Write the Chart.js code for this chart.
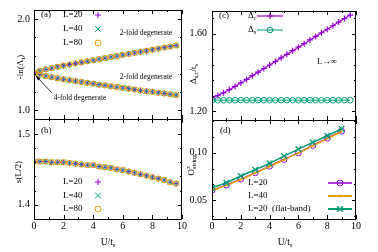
<!DOCTYPE html>
<html>
<head>
<meta charset="utf-8">
<script src="https://cdn.jsdelivr.net/npm/chart.js@4.4.0/dist/chart.umd.min.js"></script>
<style>
html, body { margin: 0; padding: 0; background: #fff; }
#wrap { position: relative; width: 378px; height: 252px; }
#wrap canvas { position: absolute; left: 0; top: 0; }
</style>
</head>
<body>
<div id="wrap">
  <canvas id="chartA" width="378" height="252"></canvas>
  <canvas id="chartB" width="378" height="252"></canvas>
  <canvas id="chartC" width="378" height="252"></canvas>
  <canvas id="chartD" width="378" height="252"></canvas>
</div>
<script>
// data
const uGrid = [0, 0.4, 0.8, 1.2, 1.6, 2.0, 2.4, 2.8, 3.2, 3.6, 4.0, 4.4, 4.8, 5.2, 5.6, 6.0, 6.4, 6.8, 7.2, 7.6, 8.0, 8.4, 8.8, 9.2, 9.6];

// (a) -ln(Lambda_i), upper and lower branch (L=20,40,80 coincide)
const lnUpper = [1.410, 1.432, 1.449, 1.463, 1.477, 1.490, 1.502, 1.514, 1.526, 1.538, 1.549, 1.561, 1.572, 1.584, 1.595, 1.607, 1.618, 1.630, 1.641, 1.653, 1.664, 1.676, 1.688, 1.699, 1.711];
const lnLower = [1.410, 1.391, 1.376, 1.364, 1.352, 1.341, 1.331, 1.321, 1.311, 1.301, 1.292, 1.282, 1.273, 1.264, 1.255, 1.246, 1.237, 1.228, 1.219, 1.210, 1.202, 1.193, 1.185, 1.176, 1.168];

// (b) s(L/2)
const entropy = [1.461, 1.461, 1.461, 1.460, 1.460, 1.460, 1.459, 1.458, 1.457, 1.456, 1.456, 1.454, 1.453, 1.452, 1.450, 1.449, 1.447, 1.445, 1.443, 1.441, 1.439, 1.437, 1.435, 1.432, 1.430];

// (c) gaps
const gapCharge = [1.270, 1.282, 1.296, 1.312, 1.329, 1.347, 1.365, 1.384, 1.402, 1.421, 1.439, 1.457, 1.476, 1.494, 1.513, 1.531, 1.549, 1.568, 1.586, 1.605, 1.623, 1.641, 1.660, 1.678, 1.696];
const gapSpin = [1.258, 1.258, 1.258, 1.258, 1.258, 1.258, 1.258, 1.258, 1.258, 1.258, 1.258, 1.258, 1.258, 1.258, 1.258, 1.258, 1.258, 1.258, 1.258, 1.258, 1.258, 1.258, 1.258, 1.258, 1.258];

// (d) string order
const uInt = [0, 1, 2, 3, 4, 5, 6, 7, 8, 9];
const strL20 = [0.0606, 0.0659, 0.0722, 0.0789, 0.0859, 0.0930, 0.1000, 0.1078, 0.1155, 0.1229];
const strL40 = [0.0602, 0.0655, 0.0718, 0.0785, 0.0855, 0.0926, 0.0996, 0.1074, 0.1150, 0.1224];
const strFlat = [0.0630, 0.0683, 0.0754, 0.0820, 0.0888, 0.0965, 0.1039, 0.1110, 0.1180, 0.1254];

// ticks
const xMajor = [0, 2, 4, 6, 8, 10];
const xMinor = [1, 3, 5, 7, 9];
const yMajorA = [1.0, 2.0], yMinorA = [1.2, 1.4, 1.6, 1.8];
const yMajorB = [1.4, 1.5], yMinorB = [1.42, 1.44, 1.46, 1.48];
const yMajorC = [1.2, 1.6], yMinorC = [1.28, 1.36, 1.44, 1.52, 1.68];
const yMajorD = [0.05, 0.10], yMinorD = [0.0333, 0.0667, 0.0833, 0.1167, 0.1333];

const PURPLE = "#9400d3";
const GREEN = "#009e73";
const ORANGE = "#e69f00";
const SERIF = '"Liberation Serif", "DejaVu Serif", serif';

function pts(xs, ys) {
    return xs.map((x, i) => ({ x: x, y: ys[i] }));
}

// text with sub/superscripts
function drawRich(ctx, parts, x, y, size, align) {
    let w = 0;
    const segs = parts.map(p => {
        const fs = p.s ? size * 0.7 : size;
        ctx.font = fs + "px " + SERIF;
        const pw = ctx.measureText(p.t).width;
        if (!p.keep) w += pw;
        return { t: p.t, fs: fs, pw: pw, keep: p.keep,
            dy: p.s === "sub" ? size * 0.3 : (p.s === "sup" ? -size * 0.35 : 0) };
    });
    let cx = align === "center" ? x - w / 2 : (align === "right" ? x - w : x);
    ctx.textAlign = "left";
    ctx.textBaseline = "middle";
    segs.forEach(s => {
        ctx.font = s.fs + "px " + SERIF;
        ctx.fillText(s.t, cx, y + s.dy);
        if (!s.keep) cx += s.pw;
    });
}

function marker(ctx, style, x, y, r, color, lw) {
    ctx.save();
    ctx.strokeStyle = color;
    ctx.fillStyle = color;
    ctx.lineWidth = lw;
    ctx.beginPath();
    if (style === "cross") {
        ctx.moveTo(x - r, y); ctx.lineTo(x + r, y);
        ctx.moveTo(x, y - r); ctx.lineTo(x, y + r);
        ctx.stroke();
    } else if (style === "crossRot") {
        const d = r * 0.707;
        ctx.moveTo(x - d, y - d); ctx.lineTo(x + d, y + d);
        ctx.moveTo(x - d, y + d); ctx.lineTo(x + d, y - d);
        ctx.stroke();
    } else if (style === "rect") {
        ctx.fillRect(x - r, y - r, 2 * r, 2 * r);
    } else {
        ctx.arc(x, y, r, 0, Math.PI * 2);
        ctx.stroke();
    }
    ctx.restore();
}

// frame, inward ticks, texts, legend
function makeDeco(cfg) {
    return {
        id: "deco",
        afterDraw(chart) {
            const ctx = chart.ctx;
            const a = chart.chartArea;
            const sx = chart.scales.x, sy = chart.scales.y;
            ctx.save();
            ctx.strokeStyle = "#000";
            ctx.lineWidth = 1;
            ctx.strokeRect(Math.round(a.left) + 0.5, Math.round(a.top) + 0.5,
                Math.round(a.right - a.left) - 1, Math.round(a.bottom - a.top));
            ctx.beginPath();
            const tx = (v, len) => {
                const p = Math.round(sx.getPixelForValue(v)) + 0.5;
                ctx.moveTo(p, a.bottom); ctx.lineTo(p, a.bottom - len);
                ctx.moveTo(p, a.top); ctx.lineTo(p, a.top + len);
            };
            const ty = (v, len) => {
                const p = Math.round(sy.getPixelForValue(v)) + 0.5;
                ctx.moveTo(a.left, p); ctx.lineTo(a.left + len, p);
                ctx.moveTo(a.right, p); ctx.lineTo(a.right - len, p);
            };
            xMajor.forEach(v => tx(v, 4));
            xMinor.forEach(v => tx(v, 2));
            cfg.yMajor.forEach(v => ty(v, 4));
            cfg.yMinor.forEach(v => ty(v, 2));
            ctx.stroke();

            ctx.fillStyle = "#000";
            (cfg.texts || []).forEach(t => {
                ctx.save();
                ctx.fillStyle = "#000";
                if (t.rot) {
                    ctx.translate(t.x, t.y);
                    ctx.rotate(-Math.PI / 2);
                    drawRich(ctx, t.parts, 0, 0, t.size, "center");
                } else {
                    drawRich(ctx, t.parts, t.x, t.y, t.size, t.align || "left");
                }
                ctx.restore();
            });
            (cfg.legend || []).forEach(l => {
                if (l.line) {
                    ctx.save();
                    ctx.strokeStyle = l.color;
                    ctx.lineWidth = l.lw;
                    ctx.beginPath();
                    ctx.moveTo(l.line[0], l.y); ctx.lineTo(l.line[1], l.y);
                    ctx.stroke();
                    ctx.restore();
                }
                marker(ctx, l.style, l.x, l.y, l.r, l.color, l.pw);
            });
            if (cfg.arrow) cfg.arrow(ctx, sx, sy);
            ctx.restore();
        }
    };
}

function scales(o) {
    return {
        x: {
            type: "linear", min: 0, max: 10,
            afterBuildTicks: s => { s.ticks = xMajor.map(v => ({ value: v })); },
            afterFit: s => { s.height = o.xh; },
            grid: { display: false, drawTicks: false },
            border: { display: false },
            ticks: { display: o.xh > 0, font: { family: SERIF, size: 10 }, color: "#000", padding: 1,
                maxRotation: 0, autoSkip: false, callback: v => String(v) }
        },
        y: {
            type: "linear", min: o.min, max: o.max,
            afterBuildTicks: s => { s.ticks = o.major.map(v => ({ value: v })); },
            afterFit: s => { s.width = o.yw; },
            grid: { display: false, drawTicks: false },
            border: { display: false },
            ticks: { font: { family: SERIF, size: 10 }, color: "#000", padding: o.pad,
                autoSkip: false, callback: v => v.toFixed(o.dec) }
        }
    };
}

function baseOptions(padding, sc) {
    return {
        responsive: false,
        animation: false,
        devicePixelRatio: 1,
        layout: { padding: padding },
        plugins: { legend: { display: false }, tooltip: { enabled: false } },
        elements: { line: { tension: 0 } },
        scales: sc
    };
}

function markerSet(data, style, color, r, lw) {
    return {
        data: data, showLine: false, pointStyle: style, pointRadius: r,
        pointBorderColor: color, pointBackgroundColor: "rgba(0,0,0,0)",
        pointBorderWidth: lw, borderColor: color
    };
}

// panel (a)
new Chart(document.getElementById("chartA"), {
    type: "line",
    data: {
        datasets: [
            markerSet(pts(uGrid, lnUpper), "circle", ORANGE, 2.7, 1),
            markerSet(pts(uGrid, lnLower), "circle", ORANGE, 2.7, 1),
            markerSet(pts(uGrid, lnUpper), "crossRot", GREEN, 3.6, 1),
            markerSet(pts(uGrid, lnLower), "crossRot", GREEN, 3.6, 1),
            markerSet(pts(uGrid, lnUpper), "cross", PURPLE, 2.6, 1),
            markerSet(pts(uGrid, lnLower), "cross", PURPLE, 2.6, 1)
        ]
    },
    options: baseOptions({ left: 0, top: 5, right: 196, bottom: 133 },
        scales({ xh: 0, yw: 34, min: 0.905, max: 2.1, major: yMajorA, dec: 1, pad: 4 })),
    plugins: [makeDeco({
        yMajor: yMajorA, yMinor: yMinorA,
        texts: [
            { x: 41, y: 15, size: 9, parts: [{ t: "(a)" }] },
            { x: 63, y: 15, size: 9, parts: [{ t: "L=20" }] },
            { x: 63, y: 29, size: 9, parts: [{ t: "L=40" }] },
            { x: 63, y: 43, size: 9, parts: [{ t: "L=80" }] },
            { x: 146, y: 33, size: 7.5, align: "center", parts: [{ t: "2-fold degenerate" }] },
            { x: 146, y: 77, size: 7.5, align: "center", parts: [{ t: "2-fold degenerate" }] },
            { x: 80, y: 98, size: 7.5, align: "center", parts: [{ t: "4-fold degenerate" }] },
            { x: 21, y: 67, size: 9, rot: true, parts: [{ t: "-ln(Λ" }, { t: "i", s: "sub" }, { t: ")" }] }
        ],
        legend: [
            { style: "cross", x: 98, y: 15, r: 3, color: PURPLE, pw: 1 },
            { style: "crossRot", x: 98, y: 29, r: 4, color: GREEN, pw: 1 },
            { style: "circle", x: 98, y: 43, r: 3, color: ORANGE, pw: 1 }
        ],
        arrow: (ctx, sx, sy) => {
            const ex = sx.getPixelForValue(uGrid[0]) + 2;
            const ey = sy.getPixelForValue(lnLower[0]) + 3;
            const bx = 52, by = 93;
            const ang = Math.atan2(ey - by, ex - bx);
            ctx.strokeStyle = "#000";
            ctx.fillStyle = "#000";
            ctx.lineWidth = 0.8;
            ctx.beginPath();
            ctx.moveTo(bx, by); ctx.lineTo(ex, ey);
            ctx.stroke();
            ctx.beginPath();
            ctx.moveTo(ex, ey);
            ctx.lineTo(ex - 5 * Math.cos(ang - 0.35), ey - 5 * Math.sin(ang - 0.35));
            ctx.lineTo(ex - 5 * Math.cos(ang + 0.35), ey - 5 * Math.sin(ang + 0.35));
            ctx.closePath();
            ctx.fill();
        }
    })]
});

// panel (b)
new Chart(document.getElementById("chartB"), {
    type: "line",
    data: {
        datasets: [
            markerSet(pts(uGrid, entropy), "circle", ORANGE, 2.7, 1),
            markerSet(pts(uGrid, entropy), "crossRot", GREEN, 3.6, 1),
            markerSet(pts(uGrid, entropy), "cross", PURPLE, 2.6, 1)
        ]
    },
    options: baseOptions({ left: 0, top: 119, right: 196, bottom: 0 },
        scales({ xh: 33, yw: 34, min: 1.38, max: 1.521, major: yMajorB, dec: 1, pad: 4 })),
    plugins: [makeDeco({
        yMajor: yMajorB, yMinor: yMinorB,
        texts: [
            { x: 41, y: 131, size: 9, parts: [{ t: "(b)" }] },
            { x: 63, y: 182, size: 9, parts: [{ t: "L=20" }] },
            { x: 63, y: 195.5, size: 9, parts: [{ t: "L=40" }] },
            { x: 63, y: 209, size: 9, parts: [{ t: "L=80" }] },
            { x: 19, y: 172, size: 9, rot: true, parts: [{ t: "s(L/2)" }] },
            { x: 108, y: 242, size: 9.5, align: "center", parts: [{ t: "U/t" }, { t: "s", s: "sub" }] }
        ],
        legend: [
            { style: "cross", x: 98, y: 182, r: 3, color: PURPLE, pw: 1 },
            { style: "crossRot", x: 98, y: 195.5, r: 4, color: GREEN, pw: 1 },
            { style: "circle", x: 98, y: 209, r: 3, color: ORANGE, pw: 1 }
        ]
    })]
});

// panel (c)
new Chart(document.getElementById("chartC"), {
    type: "line",
    data: {
        datasets: [
            {
                data: pts(uGrid, gapCharge), borderColor: PURPLE, borderWidth: 1.2,
                pointStyle: "cross", pointRadius: 3, pointBorderWidth: 1.2,
                pointBorderColor: PURPLE, pointBackgroundColor: PURPLE
            },
            {
                data: pts(uGrid, gapSpin), borderColor: GREEN, borderWidth: 1,
                pointStyle: "circle", pointRadius: 2.8, pointBorderWidth: 1,
                pointBorderColor: GREEN, pointBackgroundColor: "rgba(0,0,0,0)"
            }
        ]
    },
    options: baseOptions({ left: 180, top: 5, right: 22, bottom: 132 },
        scales({ xh: 0, yw: 32, min: 1.156, max: 1.717, major: yMajorC, dec: 2, pad: 5 })),
    plugins: [makeDeco({
        yMajor: yMajorC, yMinor: yMinorC,
        texts: [
            { x: 219, y: 16, size: 9, parts: [{ t: "(c)" }] },
            { x: 248, y: 16, size: 9, parts: [{ t: "Δ" }, { t: "c", s: "sub" }] },
            { x: 248, y: 30, size: 9, parts: [{ t: "Δ" }, { t: "s", s: "sub" }] },
            { x: 317, y: 62, size: 8.5, parts: [{ t: "L→∞" }] },
            { x: 194, y: 74, size: 9, rot: true, parts: [{ t: "Δ" }, { t: "s,c", s: "sub" }, { t: "/t" }, { t: "s", s: "sub" }] }
        ],
        legend: [
            { style: "cross", x: 270, y: 16, r: 3, color: PURPLE, pw: 1.2, line: [257, 283], lw: 1.2 },
            { style: "circle", x: 270, y: 30, r: 2.8, color: GREEN, pw: 1, line: [257, 283], lw: 1 }
        ]
    })]
});

// panel (d)
new Chart(document.getElementById("chartD"), {
    type: "line",
    data: {
        datasets: [
            {
                data: pts(uInt, strFlat), borderColor: GREEN, borderWidth: 1.5,
                pointStyle: "crossRot", pointRadius: 4, pointBorderWidth: 1.3,
                pointBorderColor: GREEN, pointBackgroundColor: GREEN
            },
            {
                data: pts(uInt, strL40), borderColor: ORANGE, borderWidth: 1.5,
                pointStyle: "rect", pointRadius: 1.3, pointBorderWidth: 0,
                pointBorderColor: ORANGE, pointBackgroundColor: ORANGE
            },
            {
                data: pts(uInt, strL20), borderColor: PURPLE, borderWidth: 1.2,
                pointStyle: "circle", pointRadius: 3, pointBorderWidth: 1,
                pointBorderColor: PURPLE, pointBackgroundColor: "rgba(0,0,0,0)"
            }
        ]
    },
    options: baseOptions({ left: 180, top: 120, right: 22, bottom: 0 },
        scales({ xh: 33, yw: 32, min: 0.03, max: 0.1346, major: yMajorD, dec: 2, pad: 5 })),
    plugins: [makeDeco({
        yMajor: yMajorD, yMinor: yMinorD,
        texts: [
            { x: 220, y: 131, size: 9, parts: [{ t: "(d)" }] },
            { x: 248, y: 183, size: 9, parts: [{ t: "L=20" }] },
            { x: 248, y: 196, size: 9, parts: [{ t: "L=40" }] },
            { x: 248, y: 209, size: 9, parts: [{ t: "L=20  (flat-band)" }] },
            { x: 192, y: 165, size: 9, rot: true, parts: [{ t: "O" }, { t: "z", s: "sup", keep: true }, { t: "string", s: "sub" }] },
            { x: 285, y: 242, size: 9.5, align: "center", parts: [{ t: "U/t" }, { t: "s", s: "sub" }] }
        ],
        legend: [
            { style: "circle", x: 340, y: 183, r: 3, color: PURPLE, pw: 1, line: [328, 352], lw: 1.5 },
            { style: "rect", x: 340, y: 196, r: 1.3, color: ORANGE, pw: 1, line: [328, 352], lw: 2 },
            { style: "crossRot", x: 340, y: 209, r: 4, color: GREEN, pw: 1.3, line: [328, 352], lw: 2 }
        ]
    })]
});
</script>
</body>
</html>
